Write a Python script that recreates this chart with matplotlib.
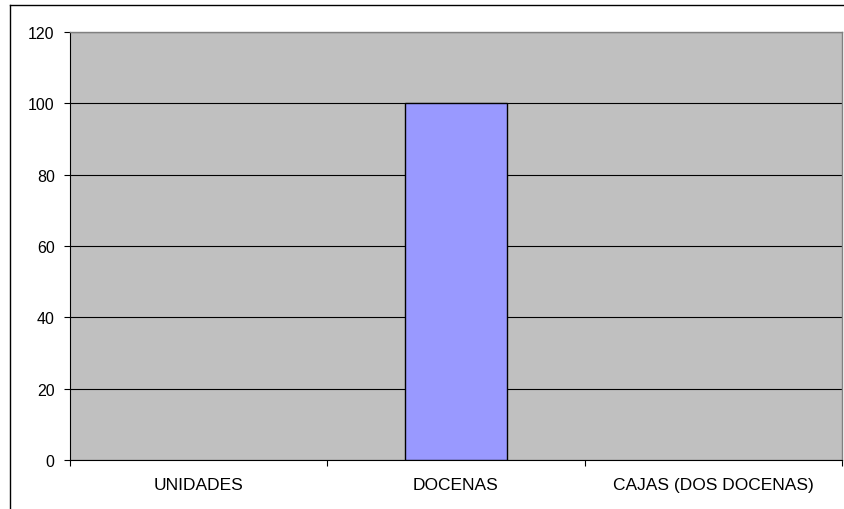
import matplotlib
matplotlib.use("Agg")
import matplotlib.pyplot as plt
from matplotlib.lines import Line2D

categories = ["UNIDADES", "DOCENAS", "CAJAS (DOS DOCENAS)"]
values = [0, 100, 0]
y_ticks = [0, 20, 40, 60, 80, 100, 120]

plt.rcParams["font.family"] = ["Liberation Sans", "DejaVu Sans"]

W, H = 844, 510
fig = plt.figure(figsize=(W / 100, H / 100), dpi=100)

# plot area in pixel coordinates
left, right, top, bottom = 70, 842, 33, 461
ax = fig.add_axes([left / W, 1 - bottom / H, (right - left) / W, (bottom - top) / H])
ax.set_facecolor("#C0C0C0")

x = list(range(len(categories)))
# empty categories have no visible outline
ax.bar(x, values, width=0.4, color="#9999FF", edgecolor="black",
       linewidth=[1 if v else 0 for v in values], zorder=3)

ax.set_xlim(-0.5, len(categories) - 0.5)
ax.set_ylim(0, 120)
ax.set_yticks(y_ticks)
ax.set_yticklabels([str(v) for v in y_ticks], fontsize=11.5)
ax.yaxis.grid(True, color="black", linewidth=0.8, zorder=0)
ax.set_axisbelow(True)

# category labels centred, tick marks between categories
ax.set_xticks(x)
ax.set_xticklabels(categories, fontsize=12.5)
ax.tick_params(axis="x", length=0, pad=12)
ax.set_xticks([i + 0.5 for i in range(-1, len(categories))], minor=True)
ax.tick_params(axis="x", which="minor", length=4.5, width=0.8, direction="out", color="black")
ax.tick_params(axis="y", length=4.5, width=0.8, direction="out", pad=6.5)

for side in ["top", "right"]:
    ax.spines[side].set_color("#808080")
    ax.spines[side].set_linewidth(1)
for side in ["left", "bottom"]:
    ax.spines[side].set_color("black")
    ax.spines[side].set_linewidth(0.8)

# outer chart border (left and top visible)
fig.add_artist(Line2D([10 / W, 10 / W], [0, 1 - 6 / H], color="black", linewidth=1, transform=fig.transFigure))
fig.add_artist(Line2D([10 / W, 1], [1 - 6 / H, 1 - 6 / H], color="black", linewidth=1, transform=fig.transFigure))

fig.savefig("out.png", dpi=100)
plt.close(fig)
